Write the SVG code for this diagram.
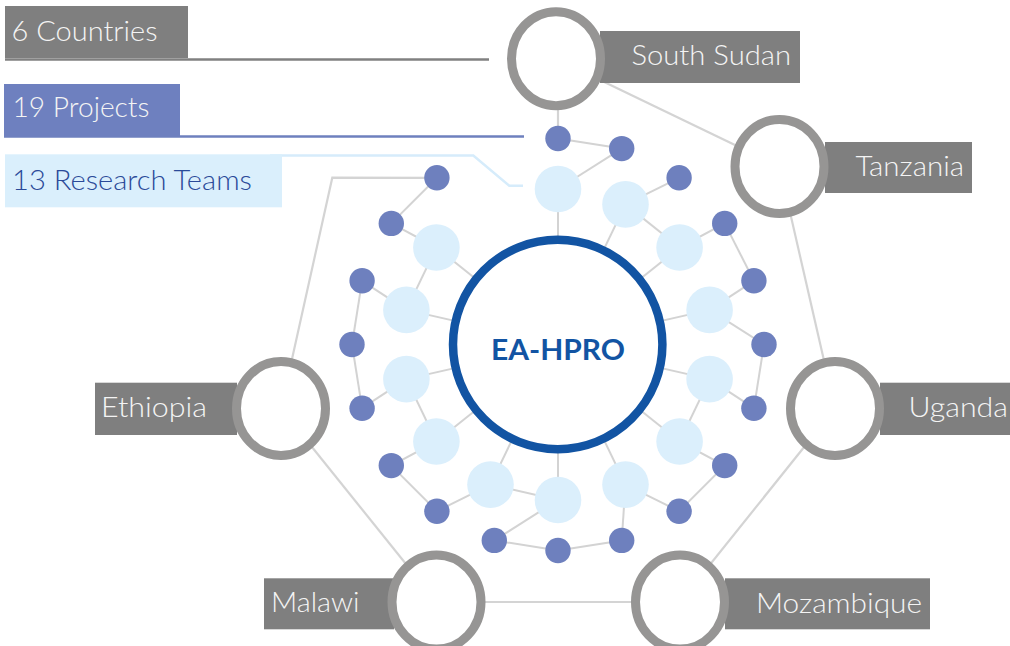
<svg xmlns="http://www.w3.org/2000/svg" width="1010" height="646" viewBox="0 0 1010 646">
<style>
.bg{fill:#ffffff}
.ln{stroke:#d3d3d3;stroke-width:2;fill:none}
.cl{stroke:#d4d4d4;stroke-width:2.2;fill:none}
.team{fill:#dbeffc}
.proj{fill:#6e80be}
.ring{fill:#ffffff;stroke:#969594;stroke-width:9}
.lab{fill:#7f7f7f}
.lt{font-family:Lato,"Open Sans","Liberation Sans",sans-serif;font-weight:300;font-size:28px;fill:#f4f4f4}
.hub{fill:#ffffff;stroke:#1254a3;stroke-width:8.5}
.ht{font-family:Lato,"Liberation Sans",sans-serif;font-weight:700;font-size:28px;fill:#1254a3}
</style>
<rect class="bg" x="0" y="0" width="1010" height="646"/>

<g id="legend">
  <line x1="5" y1="59.5" x2="489" y2="59.5" stroke="#808080" stroke-width="2.5"/>
  <rect x="5" y="6" width="183" height="52" fill="#7f7f7f"/>
  <text class="lt" x="11.5" y="40.7" textLength="146" lengthAdjust="spacingAndGlyphs">6 Countries</text>
  <line x1="4" y1="136.5" x2="524" y2="136.5" stroke="#6e80be" stroke-width="2.5"/>
  <rect x="4" y="84" width="176" height="52" fill="#6e80bf"/>
  <text class="lt" x="12.5" y="117.3" textLength="137" lengthAdjust="spacingAndGlyphs">19 Projects</text>
  <polyline points="270,155.5 473.3,155.5 509.3,185.7 523,185.7" fill="none" stroke="#d6ecfb" stroke-width="2.5"/>
  <rect x="5" y="154.3" width="277" height="53" fill="#daeffc"/>
  <text class="lt" x="12" y="190" textLength="240" lengthAdjust="spacingAndGlyphs" style="fill:#2a4a99">13 Research Teams</text>
</g>

<g id="connectors">
  <!-- country ring -->
  <line class="cl" x1="556" y1="58.7" x2="779.5" y2="166.5"/>
  <line class="cl" x1="779.5" y1="166.5" x2="835" y2="408.5"/>
  <line class="cl" x1="835" y1="408.5" x2="680" y2="602"/>
  <line class="cl" x1="680" y1="602" x2="436.5" y2="602"/>
  <line class="cl" x1="436.5" y1="602" x2="281" y2="408.5"/>
  <polyline class="cl" points="281,408.5 332.3,177.7 436.9,177.8"/>
  <line class="cl" x1="558" y1="100" x2="558" y2="138.5"/>
  <!-- spokes from hub -->
  <line class="ln" x1="558" y1="344.5" x2="558" y2="189"/>
  <line class="ln" x1="558" y1="344.5" x2="625.5" y2="204.4"/>
  <line class="ln" x1="558" y1="344.5" x2="679.6" y2="247.5"/>
  <line class="ln" x1="558" y1="344.5" x2="709.6" y2="309.9"/>
  <line class="ln" x1="558" y1="344.5" x2="709.6" y2="379.1"/>
  <line class="ln" x1="558" y1="344.5" x2="679.6" y2="441.5"/>
  <line class="ln" x1="558" y1="344.5" x2="625.5" y2="484.6"/>
  <line class="ln" x1="558" y1="344.5" x2="558" y2="500"/>
  <line class="ln" x1="558" y1="344.5" x2="490.5" y2="484.6"/>
  <line class="ln" x1="558" y1="344.5" x2="436.4" y2="441.5"/>
  <line class="ln" x1="558" y1="344.5" x2="406.4" y2="379.1"/>
  <line class="ln" x1="558" y1="344.5" x2="406.4" y2="309.9"/>
  <line class="ln" x1="558" y1="344.5" x2="436.4" y2="247.5"/>
  <!-- team-team -->
  <line class="ln" x1="625.5" y1="204.4" x2="679.6" y2="247.5"/>
  <line class="ln" x1="709.6" y1="379.1" x2="679.6" y2="441.5"/>
  <line class="ln" x1="558" y1="500" x2="490.5" y2="484.6"/>
  <line class="ln" x1="436.4" y1="441.5" x2="406.4" y2="379.1"/>
  <line class="ln" x1="406.4" y1="309.9" x2="436.4" y2="247.5"/>
  <!-- project links -->
  <line class="ln" x1="558" y1="138.5" x2="621.7" y2="148.6"/>
  <line class="ln" x1="621.7" y1="148.6" x2="558" y2="189"/>
  <line class="ln" x1="679.1" y1="177.8" x2="625.5" y2="204.4"/>
  <line class="ln" x1="679.6" y1="247.5" x2="724.7" y2="223.4"/>
  <line class="ln" x1="724.7" y1="223.4" x2="753.9" y2="280.8"/>
  <line class="ln" x1="753.9" y1="280.8" x2="709.6" y2="309.9"/>
  <line class="ln" x1="709.6" y1="309.9" x2="764" y2="344.5"/>
  <line class="ln" x1="764" y1="344.5" x2="753.9" y2="408.2"/>
  <line class="ln" x1="753.9" y1="408.2" x2="709.6" y2="379.1"/>
  <line class="ln" x1="679.6" y1="441.5" x2="724.7" y2="465.6"/>
  <line class="ln" x1="724.7" y1="465.6" x2="679.1" y2="511.2"/>
  <line class="ln" x1="679.1" y1="511.2" x2="625.5" y2="484.6"/>
  <line class="ln" x1="625.5" y1="484.6" x2="621.7" y2="540.4"/>
  <line class="ln" x1="621.7" y1="540.4" x2="558" y2="550.5"/>
  <line class="ln" x1="558" y1="550.5" x2="494.3" y2="540.4"/>
  <line class="ln" x1="494.3" y1="540.4" x2="558" y2="500"/>
  <line class="ln" x1="490.5" y1="484.6" x2="436.9" y2="511.2"/>
  <line class="ln" x1="436.9" y1="511.2" x2="391.3" y2="465.6"/>
  <line class="ln" x1="391.3" y1="465.6" x2="436.4" y2="441.5"/>
  <line class="ln" x1="406.4" y1="379.1" x2="362.1" y2="408.2"/>
  <line class="ln" x1="362.1" y1="408.2" x2="352" y2="344.5"/>
  <line class="ln" x1="352" y1="344.5" x2="362.1" y2="280.8"/>
  <line class="ln" x1="362.1" y1="280.8" x2="406.4" y2="309.9"/>
  <line class="ln" x1="436.4" y1="247.5" x2="391.3" y2="223.4"/>
  <line class="ln" x1="391.3" y1="223.4" x2="436.9" y2="177.8"/>
</g>

<g id="teams">
  <circle id="team-1" class="team" cx="558" cy="189" r="23.3"/>
  <circle id="team-2" class="team" cx="625.5" cy="204.4" r="23.3"/>
  <circle id="team-3" class="team" cx="679.6" cy="247.5" r="23.3"/>
  <circle id="team-4" class="team" cx="709.6" cy="309.9" r="23.3"/>
  <circle id="team-5" class="team" cx="709.6" cy="379.1" r="23.3"/>
  <circle id="team-6" class="team" cx="679.6" cy="441.5" r="23.3"/>
  <circle id="team-7" class="team" cx="625.5" cy="484.6" r="23.3"/>
  <circle id="team-8" class="team" cx="558" cy="500" r="23.3"/>
  <circle id="team-9" class="team" cx="490.5" cy="484.6" r="23.3"/>
  <circle id="team-10" class="team" cx="436.4" cy="441.5" r="23.3"/>
  <circle id="team-11" class="team" cx="406.4" cy="379.1" r="23.3"/>
  <circle id="team-12" class="team" cx="406.4" cy="309.9" r="23.3"/>
  <circle id="team-13" class="team" cx="436.4" cy="247.5" r="23.3"/>
</g>

<g id="projects">
  <circle id="project-1" class="proj" cx="558" cy="138.5" r="12.7"/>
  <circle id="project-2" class="proj" cx="621.7" cy="148.6" r="12.7"/>
  <circle id="project-3" class="proj" cx="679.1" cy="177.8" r="12.7"/>
  <circle id="project-4" class="proj" cx="724.7" cy="223.4" r="12.7"/>
  <circle id="project-5" class="proj" cx="753.9" cy="280.8" r="12.7"/>
  <circle id="project-6" class="proj" cx="764" cy="344.5" r="12.7"/>
  <circle id="project-7" class="proj" cx="753.9" cy="408.2" r="12.7"/>
  <circle id="project-8" class="proj" cx="724.7" cy="465.6" r="12.7"/>
  <circle id="project-9" class="proj" cx="679.1" cy="511.2" r="12.7"/>
  <circle id="project-10" class="proj" cx="621.7" cy="540.4" r="12.7"/>
  <circle id="project-11" class="proj" cx="558" cy="550.5" r="12.7"/>
  <circle id="project-12" class="proj" cx="494.3" cy="540.4" r="12.7"/>
  <circle id="project-13" class="proj" cx="436.9" cy="511.2" r="12.7"/>
  <circle id="project-14" class="proj" cx="391.3" cy="465.6" r="12.7"/>
  <circle id="project-15" class="proj" cx="362.1" cy="408.2" r="12.7"/>
  <circle id="project-16" class="proj" cx="352" cy="344.5" r="12.7"/>
  <circle id="project-17" class="proj" cx="362.1" cy="280.8" r="12.7"/>
  <circle id="project-18" class="proj" cx="391.3" cy="223.4" r="12.7"/>
  <circle id="project-19" class="proj" cx="436.9" cy="177.8" r="12.7"/>
</g>

<g id="hub">
  <circle class="hub" cx="557.7" cy="344.5" r="104.7"/>
  <text class="ht" x="491" y="360" textLength="134" lengthAdjust="spacingAndGlyphs">EA-HPRO</text>
</g>

<g id="south-sudan">
  <rect class="lab" x="600" y="31" width="200" height="52"/>
  <ellipse class="ring" cx="556" cy="58.7" rx="44.5" ry="47"/>
  <text class="lt" x="631.5" y="65" textLength="159.5" lengthAdjust="spacingAndGlyphs">South Sudan</text>
</g>
<g id="tanzania">
  <rect class="lab" x="825" y="142" width="147" height="51"/>
  <ellipse class="ring" cx="779.5" cy="166.5" rx="44.5" ry="47"/>
  <text class="lt" x="855.5" y="176" textLength="108.5" lengthAdjust="spacingAndGlyphs">Tanzania</text>
</g>
<g id="uganda">
  <rect class="lab" x="880" y="382.7" width="130" height="52.3"/>
  <ellipse class="ring" cx="835" cy="408.5" rx="44.5" ry="47"/>
  <text class="lt" x="908.5" y="416.7" textLength="99.5" lengthAdjust="spacingAndGlyphs">Uganda</text>
</g>
<g id="ethiopia">
  <rect class="lab" x="95" y="382.7" width="142" height="52.3"/>
  <ellipse class="ring" cx="281" cy="408.5" rx="44.5" ry="47"/>
  <text class="lt" x="101" y="416.7" textLength="106" lengthAdjust="spacingAndGlyphs">Ethiopia</text>
</g>
<g id="malawi">
  <rect class="lab" x="264" y="578.3" width="130" height="51"/>
  <ellipse class="ring" cx="436.5" cy="602" rx="44.5" ry="47"/>
  <text class="lt" x="271" y="611.7" textLength="88.5" lengthAdjust="spacingAndGlyphs">Malawi</text>
</g>
<g id="mozambique">
  <rect class="lab" x="725" y="578.3" width="205" height="51"/>
  <ellipse class="ring" cx="680" cy="602" rx="44.5" ry="47"/>
  <text class="lt" x="756" y="612.7" textLength="166" lengthAdjust="spacingAndGlyphs">Mozambique</text>
</g>
</svg>
